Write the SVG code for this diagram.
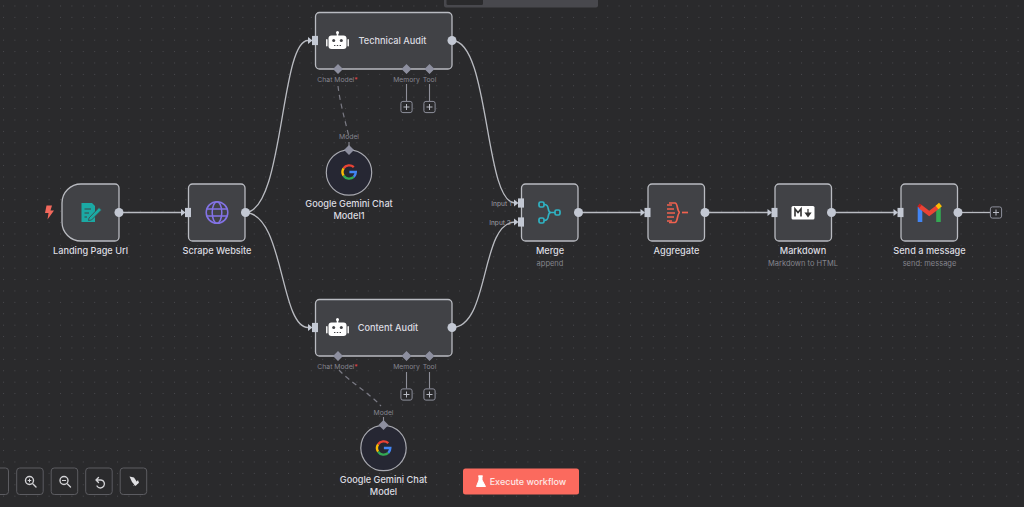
<svg xmlns="http://www.w3.org/2000/svg" width="1024" height="507" viewBox="0 0 1024 507">
<style>
text{font-family:Inter,"Liberation Sans",sans-serif;text-anchor:middle}
.nb{fill:#414246;stroke:#b9bbc1;stroke-width:1.3}
.lb{fill:#dcdce0;font-size:9.2px;font-weight:500}
.sub{fill:#85858c;font-size:7.5px}
.port{fill:#85858f;font-size:6.8px}
.inl{fill:#a0a0a8;font-size:6.6px}
.conn{fill:none;stroke:#b9bbc1;stroke-width:1.3}
.dash{fill:none;stroke:#7a7a84;stroke-width:1.2;stroke-dasharray:5 4}
.stub{fill:none;stroke:#8e8f99;stroke-width:1.1}
.out{fill:#c3c8d3}
.dia{fill:#8d8f9f}
.plus{fill:#2a2a2c;stroke:#8e909c;stroke-width:1}
.pg{stroke:#b9bbc4;stroke-width:1;fill:none}
.tool{fill:#2b2b2d;stroke:#5c5c61;stroke-width:1}
.ic{fill:none;stroke:#d2d2d5;stroke-width:1.4;stroke-linecap:round}
</style>
<defs>
<pattern id="dots" x="3" y="5.500" width="11.400" height="11.400" patternUnits="userSpaceOnUse"><circle cx="0.500" cy="0.500" r="0.550" fill="#4c4c50"/></pattern>
<g id="inp"><path d="M-7.500,-3.600 L-3,0 L-7.500,3.600Z" fill="#c3c8d3"/><rect x="-3.500" y="-4.600" width="6" height="9.200" fill="#c3c8d3"/></g>
<g id="plusbox"><rect class="plus" x="-5.600" y="-5.600" width="11.200" height="11.200" rx="2"/><path class="pg" d="M-3,0H3M0,-3V3"/></g>
<g id="robot"><rect x="-9" y="-5.500" width="18" height="13.500" rx="3" fill="#fff"/><rect x="-11.500" y="-2" width="1.600" height="7.500" rx="0.800" fill="#eee"/><rect x="9.900" y="-2" width="1.600" height="7.500" rx="0.800" fill="#eee"/><rect x="-0.800" y="-9" width="1.600" height="4" fill="#fff"/><circle cy="-8.500" r="1.500" fill="#fff"/><circle cx="-3.800" cy="-0.500" r="1.500" fill="#414246"/><circle cx="3.800" cy="-0.500" r="1.500" fill="#414246"/><path d="M-3.500,4.500H3.500" stroke="#414246" stroke-width="1.200" stroke-dasharray="1.400 1.400"/></g>
<g id="gg" fill="none" stroke-width="2.400"><path d="M4.800,-4.800A6.800,6.800 0 0 0 -5.400,-3.700" stroke="#ea4335"/><path d="M-5.400,-3.700A6.800,6.800 0 0 0 -5.400,3.700" stroke="#fbbc05"/><path d="M-5.400,3.700A6.800,6.800 0 0 0 4.800,4.800" stroke="#34a853"/><path d="M4.800,4.800A6.800,6.800 0 0 0 6.800,0H0.400" stroke="#4285f4"/></g>
</defs>
<rect width="1024" height="507" fill="#2a2a2c"/>
<rect width="1024" height="507" fill="url(#dots)"/>
<g id="topbar"><rect x="444" y="-5" width="154" height="12.500" rx="2" fill="#48484d"/><rect x="446.500" y="-5" width="36.500" height="10" rx="1.500" fill="#2a2a2c"/></g>
<g id="connectors">
<path class="conn" d="M119,212.500H182"/>
<path class="conn" d="M245,212.500C284,212.500 280,40.500 308,40.500"/>
<path class="conn" d="M245,212.500C284,212.500 280,327.500 308,327.500"/>
<path class="conn" d="M452,40.500C490,40.500 484,203 515,203"/>
<path class="conn" d="M452,327.500C490,327.500 480,222 515,222"/>
<path class="conn" d="M578,212.500H642"/>
<path class="conn" d="M705,212.500H768"/>
<path class="conn" d="M831,212.500H895"/>
<path class="conn" d="M958,212.500H990"/>
<path class="dash" d="M338,86C340,103 345,120 349,137"/>
<path class="dash" d="M339,370C350,382 368,392 381,406"/>
<path class="stub" d="M406.500,84V101M429.500,84V101M406.500,372V388.500M429.500,372V388.500M349,142V150M383.500,417V425"/>
</g>
<g id="landing-page-url">
<path class="nb" d="M81,184H115a4,4 0 0 1 4,4V237a4,4 0 0 1 -4,4H81a19,19 0 0 1 -19,-19V203a19,19 0 0 1 19,-19Z"/>
<path d="M46.500,205.500H52L50.500,210.500H54L47.500,219.500L48.500,213H45Z" fill="#f1685c"/>
<path d="M81.500,203H92L95,206V222H81.500Z" fill="#1ba9a4"/>
<path d="M84.500,209H91M84.500,213H89M84.500,217H87" stroke="#414246" stroke-width="1"/>
<path d="M89,218L99,207.500L101.500,210L91.500,220L88.500,220.500Z" fill="#1ba9a4" stroke="#414246" stroke-width="0.800"/>
<circle class="out" cx="119" cy="212.500" r="4.500"/>
<text class="lb" x="90.500" y="253.500">Landing Page Url</text>
</g>
<g id="scrape-website">
<rect class="nb" x="188.500" y="184" width="56.500" height="57" rx="4"/>
<use href="#inp" x="188.500" y="212.500"/>
<g fill="none" stroke="#8373e6" stroke-width="1.500"><circle cx="217" cy="212.500" r="10.800"/><ellipse cx="217" cy="212.500" rx="4.800" ry="10.800"/><path d="M206.500,209H227.500M206.500,216H227.500"/></g>
<circle class="out" cx="245.500" cy="212.500" r="4.500"/>
<text class="lb" x="217" y="253.500">Scrape Website</text>
</g>
<g id="technical-audit">
<rect class="nb" x="315.500" y="12.500" width="136.500" height="56.500" rx="4"/>
<use href="#inp" x="315.500" y="40.500"/>
<use href="#robot" x="337.500" y="41"/>
<circle class="out" cx="452" cy="40.500" r="4.500"/>
<text class="lb" x="392.500" y="43.700">Technical Audit</text>
<path class="dia" d="M338,64L343,69L338,74L333,69ZM406.500,64L411.500,69L406.500,74L401.500,69ZM429.500,64L434.500,69L429.500,74L424.500,69Z"/>
<text class="port" x="337.500" y="81.700">Chat Model<tspan fill="#e5484d">*</tspan></text>
<text class="port" x="406.500" y="82">Memory</text>
<text class="port" x="429.500" y="82">Tool</text>
<use href="#plusbox" x="406.500" y="107"/>
<use href="#plusbox" x="429.500" y="107"/>
</g>
<g id="content-audit">
<rect class="nb" x="315.500" y="299.500" width="136.500" height="56.500" rx="4"/>
<use href="#inp" x="315.500" y="327.500"/>
<use href="#robot" x="337.500" y="328"/>
<circle class="out" cx="452" cy="327.500" r="4.500"/>
<text class="lb" x="388" y="330.700">Content Audit</text>
<path class="dia" d="M338,351L343,356L338,361L333,356ZM406.500,351L411.500,356L406.500,361L401.500,356ZM429.500,351L434.500,356L429.500,361L424.500,356Z"/>
<text class="port" x="337.500" y="369">Chat Model<tspan fill="#e5484d">*</tspan></text>
<text class="port" x="406.500" y="369.300">Memory</text>
<text class="port" x="429.500" y="369.300">Tool</text>
<use href="#plusbox" x="406.500" y="394.500"/>
<use href="#plusbox" x="429.500" y="394.500"/>
</g>
<g id="gemini-model1">
<circle cx="349" cy="172.500" r="22.700" fill="#262733" stroke="#a8a9b0" stroke-width="1.200"/>
<path class="dia" d="M349,145L354,150L349,155L344,150Z"/>
<text class="port" x="349" y="139">Model</text>
<use href="#gg" x="349" y="172"/>
<text class="lb" x="349" y="207">Google Gemini Chat</text>
<text class="lb" x="349" y="219">Model1</text>
</g>
<g id="gemini-model">
<circle cx="383.500" cy="448" r="22.700" fill="#262733" stroke="#a8a9b0" stroke-width="1.200"/>
<path class="dia" d="M383.500,420L388.500,425L383.500,430L378.500,425Z"/>
<text class="port" x="383.500" y="415">Model</text>
<use href="#gg" x="383.500" y="448"/>
<text class="lb" x="383.500" y="483">Google Gemini Chat</text>
<text class="lb" x="383.500" y="494.500">Model</text>
</g>
<g id="merge">
<rect class="nb" x="521.500" y="184" width="56.500" height="57" rx="4"/>
<use href="#inp" x="521.500" y="203"/>
<use href="#inp" x="521.500" y="222"/>
<text class="inl" x="501.500" y="205.500">Input 1</text>
<text class="inl" x="500" y="224.500">Input 2</text>
<g fill="none" stroke="#2fb3c4" stroke-width="1.700"><rect x="539" y="202" width="5" height="5" rx="1.500"/><rect x="539" y="218" width="5" height="5" rx="1.500"/><rect x="555" y="210" width="5" height="5" rx="1.500"/><path d="M544,204.500C551,204.500 546,212.500 551,212.500H555M544,220.500C551,220.500 546,212.500 551,212.500"/></g>
<circle class="out" cx="578.500" cy="212.500" r="4.500"/>
<text class="lb" x="550" y="253.500">Merge</text>
<text class="sub" x="550" y="266">append</text>
</g>
<g id="aggregate">
<rect class="nb" x="648" y="184" width="56.500" height="57" rx="4"/>
<use href="#inp" x="648" y="212.500"/>
<g fill="none" stroke="#f0614f" stroke-width="1.700"><path d="M667,205H672M667,209H674M667,213H675M667,217H674M667,221H672"/><path d="M669,203H675C678,203 677,212.500 680,212.500C677,212.500 678,222.500 675,222.500H669"/><path d="M682,212.500H688"/></g>
<circle class="out" cx="705" cy="212.500" r="4.500"/>
<text class="lb" x="676.500" y="253.500">Aggregate</text>
</g>
<g id="markdown">
<rect class="nb" x="775" y="184" width="56.500" height="57" rx="4"/>
<use href="#inp" x="775" y="212.500"/>
<rect x="791.500" y="206" width="23" height="13.500" rx="1.500" fill="#fff"/>
<path d="M795,216.500V209L798,212.500L801,209V216.500" fill="none" stroke="#333" stroke-width="1.600"/>
<path d="M808,209V213.500M805.500,213L808,216.500L810.500,213Z" stroke="#333" stroke-width="1.200" fill="#333"/>
<circle class="out" cx="831.500" cy="212.500" r="4.500"/>
<text class="lb" x="803" y="253.500">Markdown</text>
<text class="sub" x="803" y="266">Markdown to HTML</text>
</g>
<g id="send-a-message">
<rect class="nb" x="901" y="184" width="56.500" height="57" rx="4"/>
<use href="#inp" x="901" y="212.500"/>
<path d="M920,222V207" stroke="#4285f4" stroke-width="4.600" fill="none"/>
<path d="M938.500,222V207" stroke="#34a853" stroke-width="4.600" fill="none"/>
<path d="M920,206.500L929.200,213.500L938.500,206.500" stroke="#ea4335" stroke-width="4.400" fill="none"/>
<path d="M918.500,205L920.500,206.500" stroke="#c5221f" stroke-width="4" fill="none"/>
<path d="M937,207.500L940.500,204.500" stroke="#fbbc05" stroke-width="4.400" fill="none"/>
<circle class="out" cx="958" cy="212.500" r="4.500"/>
<text class="lb" x="929.500" y="253.500">Send a message</text>
<text class="sub" x="929.500" y="266">send: message</text>
<use href="#plusbox" x="996" y="212.500"/>
</g>
<g id="toolbar">
<rect class="tool" x="-20" y="468" width="28.500" height="26.500" rx="3"/>
<rect class="tool" x="16.700" y="468" width="26.500" height="26.500" rx="3"/>
<rect class="tool" x="51.200" y="468" width="26.500" height="26.500" rx="3"/>
<rect class="tool" x="85.700" y="468" width="26.500" height="26.500" rx="3"/>
<rect class="tool" x="120.200" y="468" width="26.500" height="26.500" rx="3"/>
<path class="ic" d="M33,484L36,487"/><circle class="ic" cx="29.500" cy="480.500" r="4"/><path d="M27.700,480.500H31.300M29.500,478.700V482.300" stroke="#d2d2d5" stroke-width="1"/>
<path class="ic" d="M67.500,484L70.500,487"/><circle class="ic" cx="64" cy="480.500" r="4"/><path d="M62,480.500H66" stroke="#d2d2d5" stroke-width="1"/>
<path class="ic" d="M96,480H101A4,4 0 1 1 97,486M96,480L98.500,477.500M96,480L98.500,482.500"/>
<path d="M129.500,476.500L134,477.500L138,483.500L135.500,486L132,482Z" fill="#e0e0e3"/><path d="M133,486L138,480L139,483Z" fill="#e0e0e3"/>
</g>
<g id="execute-workflow">
<rect x="463" y="468.500" width="116" height="26" rx="2.500" fill="#fb6a5e"/>
<path d="M478,476H483M479,476V480L476.500,486.500H485.500L482,480V476Z" fill="#fff" stroke="#fff" stroke-width="1"/>
<text x="528" y="484.500" font-size="9" font-weight="500" fill="#fde8e6">Execute workflow</text>
</g>
</svg>
